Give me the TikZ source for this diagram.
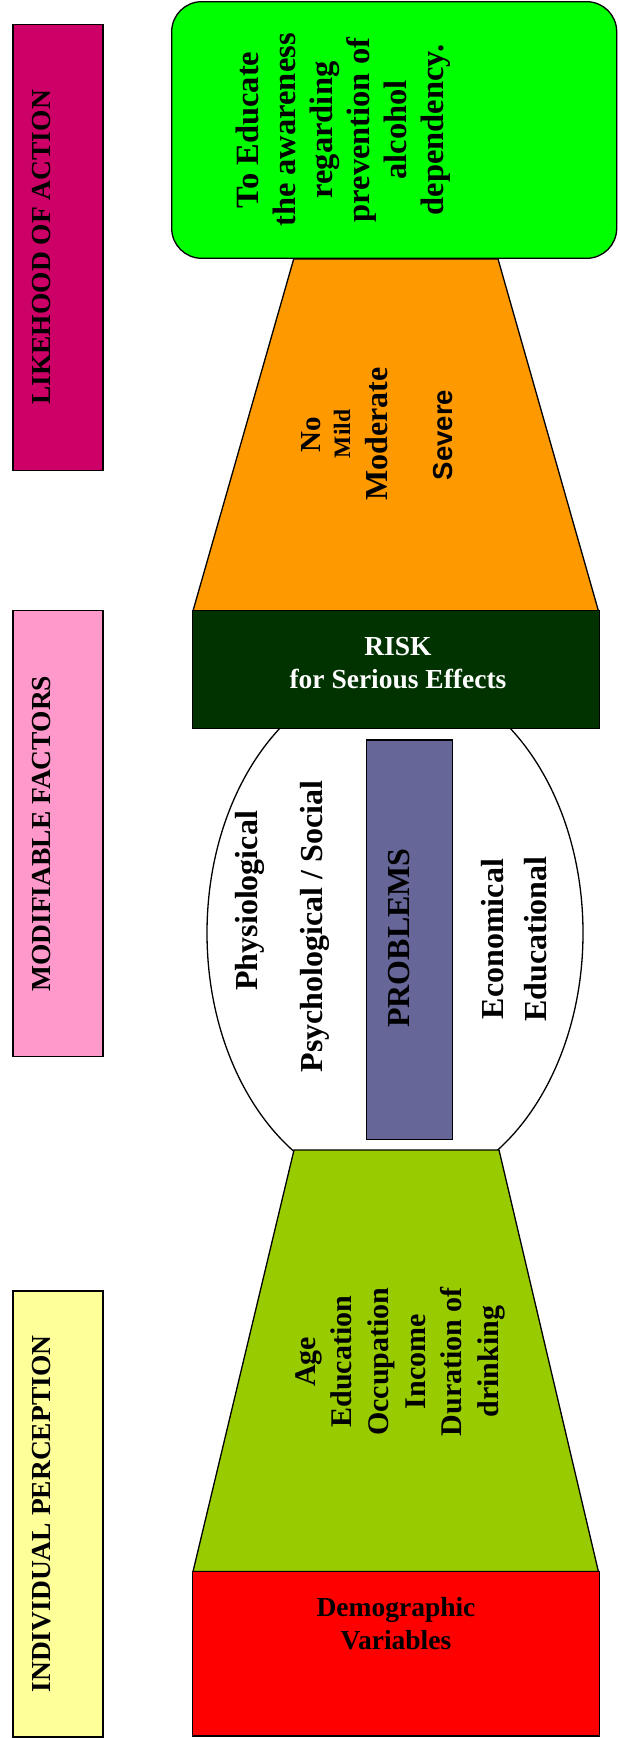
\documentclass[tikz,border=0pt]{standalone}
\usepackage{fontspec}
\setmainfont{Liberation Serif}
\newfontfamily\sansfont{Liberation Sans}
\usetikzlibrary{shapes.geometric}
\definecolor{cMag}{HTML}{CC0066}
\definecolor{cPink}{HTML}{FF99CC}
\definecolor{cYel}{HTML}{FFFF99}
\definecolor{cGreen}{HTML}{00FF00}
\definecolor{cOrange}{HTML}{FF9900}
\definecolor{cDark}{HTML}{003300}
\definecolor{cPurple}{HTML}{666699}
\definecolor{cLime}{HTML}{99CC00}
\definecolor{cRed}{HTML}{FF0000}
\newcommand{\fsz}[2]{\fontsize{#1}{#2}\selectfont\bfseries}
\begin{document}
\begin{tikzpicture}[x=1pt,y=-1pt,
  box/.style={draw=black, line width=1.3pt, inner sep=0pt, outer sep=0pt},
  sidebox/.style={box, minimum width=90pt, minimum height=446pt},
  vtext/.style={rotate=90, anchor=base, inner sep=0pt, align=center},
  htext/.style={anchor=base, inner sep=0pt, align=center}]
\useasboundingbox (0,0) rectangle (618,1739);

% left column labels
\node[sidebox, fill=cMag]  (likebox) at (58,247.5) {};
\node[sidebox, fill=cPink] (modbox)  at (58,833.8) {};
\node[sidebox, fill=cYel]  (indbox)  at (58,1514) {};
\node[vtext, font=\fsz{27.5}{33}] (liketxt) at (50.6,247.5) {LIKEHOOD OF ACTION};
\node[vtext, font=\fsz{27.5}{33}] (modtxt)  at (50.6,833.8) {MODIFIABLE FACTORS};
\node[vtext, font=\fsz{27.5}{33}] (indtxt)  at (50.4,1514) {INDIVIDUAL PERCEPTION};

% orange trapezoid
\draw[box, fill=cOrange] (293.7,259) -- (498,259) -- (598.4,610.8) -- (193,610.8) -- cycle;
% green goal box
\node[box, fill=cGreen, rounded corners=30pt, minimum width=445pt, minimum height=256.6pt] (goal) at (394.2,130) {};
\node[vtext, font=\fsz{32.5}{37.1}] (goaltxt) at (443.8,130)
  {To Educate\\the awareness\\regarding\\prevention of\\alcohol\\dependency.};

% severity words
\node[vtext, font=\fsz{29}{34}] (no) at (320,435) {No};
\node[vtext, font=\fsz{23.5}{28}] (mild) at (350,434) {Mild};
\node[vtext, font=\fsz{32}{37}] (moderate) at (387,434) {Moderate};
\node[vtext, font=\sansfont\fsz{27.5}{33}] (severe) at (452,435) {Severe};

% oval of problems
\node[box, fill=white, ellipse, minimum width=376pt, minimum height=518pt] (oval) at (395,933) {};

% risk box
\node[box, fill=cDark, minimum width=407pt, minimum height=118pt] (risk) at (396,669.75) {};
\node[htext, text=white, font=\fsz{27.5}{33}] (risktxt) at (398,688.3) {RISK\\for Serious Effects};

% lime trapezoid
\draw[box, fill=cLime] (294,1150) -- (499,1150) -- (598.4,1571.5) -- (193,1571.5) -- cycle;
\node[vtext, font=\fsz{30}{36.7}] (demtxt) at (498.5,1361.7)
  {Age\\Education\\Occupation\\Income\\Duration of\\drinking};

% red box
\node[box, fill=cRed, minimum width=406.6pt, minimum height=164.5pt] (demo) at (396,1653.75) {};
\node[htext, font=\fsz{27.5}{32.6}] (demotxt) at (396,1649.3) {Demographic\\Variables};

% problems box
\node[box, fill=cPurple, minimum width=85.6pt, minimum height=399.3pt] (prob) at (409.5,939.65) {};
\node[vtext, font=\fsz{32}{37}] (probtxt) at (409,938) {PROBLEMS};

% oval texts
\node[vtext, font=\fsz{32}{37}] (physio) at (257,900.8) {Physiological};
\node[vtext, font=\fsz{32}{37}] (psycho) at (322.7,926.7) {Psychological / Social};
\node[vtext, font=\fsz{32}{37}] (econ) at (503,939) {Economical};
\node[vtext, font=\fsz{32}{37}] (educ) at (546.5,939) {Educational};
\end{tikzpicture}
\end{document}
